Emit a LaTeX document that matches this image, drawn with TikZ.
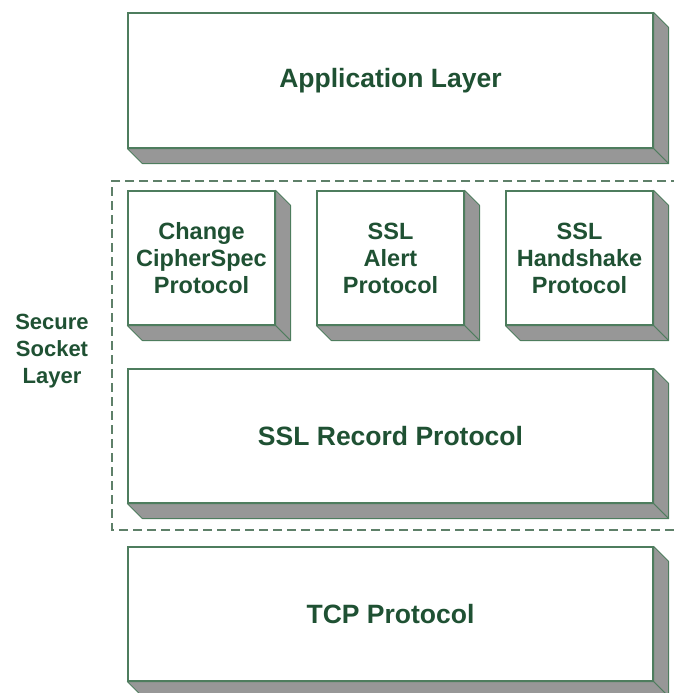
\documentclass[tikz,border=0pt]{standalone}
\usepackage{fontspec}
\setmainfont{Liberation Sans}
\definecolor{txtgreen}{HTML}{1F5133}
\definecolor{edgegreen}{HTML}{4E7D5E}
\definecolor{dashgreen}{HTML}{5E8069}
\definecolor{sidegray}{HTML}{979797}
\tikzset{
  front/.style={draw=edgegreen, line width=1.2pt, fill=white, inner sep=0pt,
    align=center, text=txtgreen, font=\bfseries\fontsize{23.5}{27}\selectfont},
  bigfront/.style={front, font=\bfseries\fontsize{26.5}{30}\selectfont},
  side/.style={draw=edgegreen, line width=0.9pt, fill=sidegray, line join=round},
  boundary/.style={draw=dashgreen, line width=1.2pt, dash pattern=on 9pt off 5pt},
  sidelabel/.style={align=center, text=txtgreen, font=\bfseries\fontsize{22}{27}\selectfont}
}
% Extruded right and bottom faces of a front node
\newcommand{\extrude}[1]{%
  \draw[side] (#1.north east) -- ++(15,15) -- ([shift={(15,15)}]#1.south east)
    -- (#1.south east) -- cycle;
  \draw[side] (#1.south west) -- ++(15,15) -- ([shift={(15,15)}]#1.south east)
    -- (#1.south east) -- cycle;
}
\begin{document}
\begin{tikzpicture}[x=1pt, y=-1pt]
  \useasboundingbox (0,0) rectangle (673,693);

  % Application layer
  \node[bigfront, minimum width=525pt, minimum height=135pt] (app) at (390.5,80.5) {Application Layer};
  \extrude{app}

  % Secure Socket Layer region
  \draw[boundary] (680,181) -- (112,181) -- (112,530) -- (680,530);
  \node[sidelabel] (ssl) at (52,351) {Secure\\Socket\\Layer};

  % Upper SSL protocols
  \node[front, minimum width=147pt, minimum height=134pt] (ccs) at (201.5,258) {Change\\CipherSpec\\Protocol};
  \extrude{ccs}
  \node[front, minimum width=147pt, minimum height=134pt] (alert) at (390.5,258) {SSL\\Alert\\Protocol};
  \extrude{alert}
  \node[front, minimum width=147pt, minimum height=134pt] (hs) at (579.5,258) {SSL\\Handshake\\Protocol};
  \extrude{hs}

  % Record protocol
  \node[bigfront, minimum width=525pt, minimum height=134pt] (rec) at (390.5,436) {SSL Record Protocol};
  \extrude{rec}

  % Transport
  \node[bigfront, minimum width=525pt, minimum height=134pt] (tcp) at (390.5,614) {TCP Protocol};
  \extrude{tcp}
\end{tikzpicture}
\end{document}
